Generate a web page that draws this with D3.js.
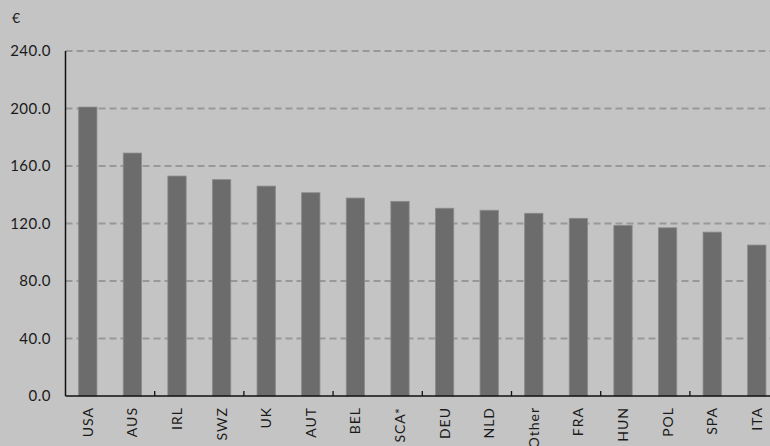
<!DOCTYPE html>
<html>
<head>
<meta charset="utf-8">
<script src="https://cdn.jsdelivr.net/npm/d3@7"></script>
<style>
  body { margin: 0; background: #c4c4c4; }
  svg { display: block; font-family: Lato, "Noto Sans", sans-serif; }
</style>
</head>
<body>
<svg id="chart" width="770" height="446"></svg>
<script>
// categories and values
const countries = ["USA", "AUS", "IRL", "SWZ", "UK", "AUT", "BEL", "SCA*",
                   "DEU", "NLD", "Other", "FRA", "HUN", "POL", "SPA", "ITA"];
const prices = [201, 169, 153, 150.5, 146, 141.4, 137.7, 135.4,
                130.6, 129.2, 127.1, 123.6, 118.7, 117, 114, 105];
const yTicks = [0, 40, 80, 120, 160, 200, 240];

let svg = d3.select("#chart");
let plotLeft = 65.5, plotTop = 51, plotBottom = 396;

let x = d3.scaleBand()
    .domain(countries)
    .range([plotLeft, plotLeft + 16 * 44.6])
    .paddingInner(0.59)
    .paddingOuter(0.295);

let y = d3.scaleLinear()
    .domain([0, 240])
    .range([plotBottom, plotTop]);

// dashed gridlines
svg.append("g").selectAll("line")
    .data(yTicks.slice(1))
    .enter().append("line")
    .attr("x1", plotLeft).attr("x2", 770)
    .attr("y1", d => y(d)).attr("y2", d => y(d))
    .attr("stroke", "#989898")
    .attr("stroke-width", 2)
    .attr("stroke-dasharray", "7,4");

// bars
svg.append("g").selectAll("rect")
    .data(countries)
    .enter().append("rect")
    .attr("x", d => x(d))
    .attr("y", (d, i) => y(prices[i]))
    .attr("width", x.bandwidth())
    .attr("height", (d, i) => plotBottom - y(prices[i]))
    .attr("fill", "#6c6c6c")
    .attr("stroke", "#8a8a8a")
    .attr("stroke-width", 0.8);

// y axis labels
svg.append("g").selectAll("text")
    .data(yTicks)
    .enter().append("text")
    .attr("x", 51)
    .attr("y", d => y(d) + 5)
    .attr("text-anchor", "end")
    .attr("font-size", 15)
    .attr("letter-spacing", 0.5)
    .attr("fill", "#1a1a1a")
    .text(d => d.toFixed(1));

svg.append("text")
    .attr("x", 12).attr("y", 23)
    .attr("font-size", 14)
    .attr("fill", "#1a1a1a")
    .text("€");

// x tick marks every two categories
let step = x.step();
svg.append("g").selectAll("line")
    .data(d3.range(2, 16, 2))
    .enter().append("line")
    .attr("x1", d => plotLeft + d * step).attr("x2", d => plotLeft + d * step)
    .attr("y1", plotBottom).attr("y2", plotBottom - 5)
    .attr("stroke", "#111")
    .attr("stroke-width", 1.3);

// axis lines
svg.append("line")
    .attr("x1", plotLeft).attr("x2", plotLeft)
    .attr("y1", plotTop).attr("y2", plotBottom)
    .attr("stroke", "#111").attr("stroke-width", 1.5);
svg.append("line")
    .attr("x1", plotLeft).attr("x2", 770)
    .attr("y1", plotBottom).attr("y2", plotBottom)
    .attr("stroke", "#111").attr("stroke-width", 1.5);

// rotated category labels
svg.append("g").selectAll("text")
    .data(countries)
    .enter().append("text")
    .attr("transform", d => "translate(" + (x(d) + x.bandwidth() / 2 + 5) + "," + 407 + ") rotate(-90)")
    .attr("text-anchor", "end")
    .attr("font-size", 14)
    .attr("letter-spacing", 1)
    .attr("fill", "#1a1a1a")
    .text(d => d);
</script>
</body>
</html>
